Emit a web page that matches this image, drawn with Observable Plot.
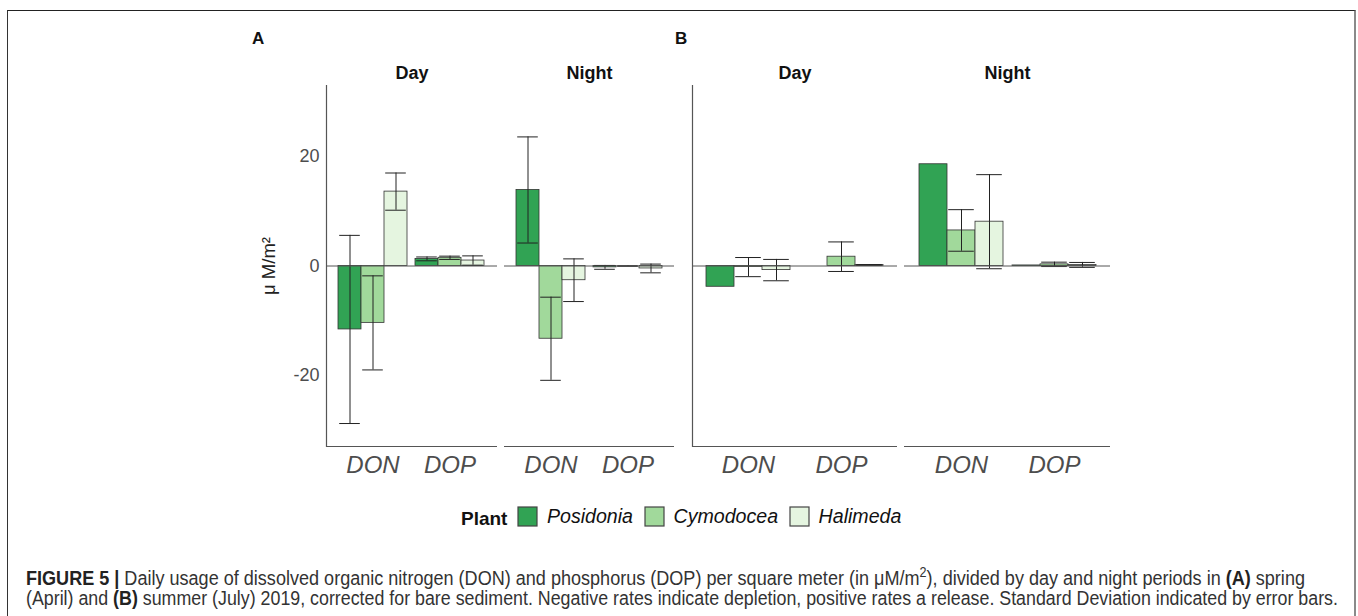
<!DOCTYPE html>
<html><head><meta charset="utf-8">
<script src="https://cdn.jsdelivr.net/npm/d3@7"></script>
<script src="https://cdn.jsdelivr.net/npm/@observablehq/plot@0.6"></script>
<style>
body{margin:0;background:#fff;font-family:"Liberation Sans",Arial,sans-serif;}
#root{position:relative;width:1358px;height:616px;overflow:hidden;background:#fff;}
#border{position:absolute;left:7px;top:10px;width:1346px;height:700px;border-left:1.5px solid #333;border-top:1.5px solid #222;border-right:2px solid #8a8a8a;}
.panel-letter{position:absolute;font-weight:bold;font-size:17px;color:#111;}
.sub{position:absolute;top:55px;}
.sub svg{position:absolute;left:0;top:0;overflow:visible;background:transparent;}
#legend{position:absolute;left:461px;top:507px;height:24px;display:flex;align-items:center;}
#legend .ttl{font-weight:bold;font-size:19px;color:#111;margin-right:11px;}
.lg-swatches{display:flex;align-items:center;}
.lg-swatch{display:inline-flex;align-items:center;margin-right:12px !important;font-style:italic;font-size:19.6px;color:#111;}
.lg-swatch > svg{margin-right:9.5px !important;overflow:visible;}
.lg-swatch rect{stroke:#444;stroke-width:1.2;}
.cap{position:absolute;left:26px;white-space:nowrap;font-family:"Liberation Sans",Arial,sans-serif;font-size:20px;color:#333;line-height:20px;transform-origin:0 0;}
.cap b{font-weight:bold;color:#222;}
</style></head><body>
<div id="root">
  <div id="border"></div>
  <div class="panel-letter" style="left:252px;top:29px;">A</div>
  <div class="panel-letter" style="left:675px;top:29px;">B</div>
  <div class="sub" id="aDay"></div>
  <div class="sub" id="aNight"></div>
  <div class="sub" id="bDay"></div>
  <div class="sub" id="bNight"></div>
  <div id="legend"><span class="ttl">Plant</span></div>
  <div class="cap" id="cap1" style="top:567.5px;"><b>FIGURE 5 |</b> Daily usage of dissolved organic nitrogen (DON) and phosphorus (DOP) per square meter (in μM/m<sup style="font-size:70%;line-height:0">2</sup>), divided by day and night periods in <b>(A)</b> spring</div>
  <div class="cap" id="cap2" style="top:588px;">(April) and <b>(B)</b> summer (July) 2019, corrected for bare sediment. Negative rates indicate depletion, positive rates a release. Standard Deviation indicated by error bars.</div>
</div>
<script>
// ---- data ----
const plants = ["Posidonia", "Cymodocea", "Halimeda"];
const plantColors = ["#31a354", "#a1d99b", "#e5f5e0"];
const variables = ["DON", "DOP"];
const periods = ["Day", "Night"];
const yTicks = [-20, 0, 20];
const yDomain = [-33, 33];
const yLabel = "μ M/m²";

// order within each period: DON (Posidonia, Cymodocea, Halimeda), DOP (Posidonia, Cymodocea, Halimeda)
const springDayMean   = [-11.6, -10.4, 13.6,   1.3, 1.5, 1.0];
const springDaySd     = [ 17.2,   8.6,  3.4,   0.35, 0.3, 0.85];
const springNightMean = [ 13.9, -13.3, -2.6,  -0.25, 0.0, -0.45];
const springNightSd   = [  9.7,   7.6,  3.9,   0.35, 0.05, 0.8];
const summerDayMean   = [ -3.8,  -0.2, -0.75,  0.0, 1.7, 0.2];
const summerDaySd     = [ null,  1.75,  1.95,  null, 2.7, 0.05];
const summerNightMean = [ 18.6,   6.5,  8.1,   0.1, 0.3, 0.2];
const summerNightSd   = [ null,   3.8,  8.6,   null, 0.4, 0.45];

function rows(mean, sd) {
  return mean.map((m, i) => ({
    variable: variables[Math.floor(i / 3)],
    plant: plants[i % 3],
    mean: m,
    sd: sd[i]
  }));
}

const FONT = '"Liberation Sans", Arial, sans-serif';

function subplot(el, {mean, sd, title, frameLeft, W, yAxis, yLine}) {
  const data = rows(mean, sd);
  const err = data.filter(d => d.sd != null);
  const mL = yAxis ? 80 : 6, mR = 6;
  const host = document.getElementById(el);
  host.style.left = (frameLeft - mL) + "px";
  const dims = {width: mL + W + mR, height: 436, marginLeft: mL, marginRight: mR, marginTop: 30, marginBottom: 45};

  // bars + error bars, faceted by variable, dodged by plant
  const bars = Plot.plot({
    ...dims,
    style: {fontFamily: FONT, background: "transparent", overflow: "visible"},
    fx: {domain: variables, paddingInner: 0.1, paddingOuter: 0.15, label: null},
    x: {domain: plants, padding: 0, axis: null},
    y: {domain: yDomain, axis: null},
    color: {domain: plants, range: plantColors},
    marks: [
      Plot.barY(data, {fx: "variable", x: "plant", y: "mean", fill: "plant", stroke: "#333", strokeWidth: 0.8}),
      Plot.ruleX(err, {fx: "variable", x: "plant", y1: d => d.mean - d.sd, y2: d => d.mean + d.sd, stroke: "#222", strokeWidth: 1}),
      Plot.tickY(err, {fx: "variable", x: "plant", y: d => d.mean - d.sd, stroke: "#222", strokeWidth: 1, inset: 1.2}),
      Plot.tickY(err, {fx: "variable", x: "plant", y: d => d.mean + d.sd, stroke: "#222", strokeWidth: 1, inset: 1.2}),
      Plot.axisFx({anchor: "bottom", tickSize: 0, tickPadding: 9, fontSize: 24, fontStyle: "italic", fill: "#4d4d4d", label: null})
    ]
  });

  // un-faceted overlay sharing the same y scale: zero line, axis lines, y axis, strip title
  const overlayMarks = [
    Plot.ruleY([0], {stroke: "#555", strokeWidth: 1}),
    Plot.ruleY([yDomain[0]], {stroke: "#555", strokeWidth: 1.2}),
    Plot.text([title], {text: d => d, frameAnchor: "top", dy: -7, lineAnchor: "bottom", fontWeight: "bold", fontSize: 18, fill: "#111"})
  ];
  if (yLine) overlayMarks.push(Plot.frame({anchor: "left", stroke: "#555", strokeWidth: 1.2}));
  if (yAxis) {
    overlayMarks.push(Plot.axisY(yTicks, {anchor: "left", tickSize: 0, tickPadding: 7, fontSize: 18, fill: "#4d4d4d", label: null, tickFormat: d => String(d)}));
    overlayMarks.push(Plot.text([yLabel], {text: d => d, frameAnchor: "left", textAnchor: "middle", rotate: -90, dx: -57, fontSize: 18.5, fill: "#222"}));
  }
  const overlay = Plot.plot({
    ...dims,
    style: {fontFamily: FONT, background: "transparent", overflow: "visible"},
    y: {domain: yDomain, axis: null},
    marks: overlayMarks
  });

  host.style.width = dims.width + "px";
  host.style.height = dims.height + "px";
  host.appendChild(bars);
  host.appendChild(overlay);
}

subplot("aDay",   {mean: springDayMean,   sd: springDaySd,   title: periods[0], frameLeft: 325.7, W: 171, yAxis: true,  yLine: true});
subplot("aNight", {mean: springNightMean, sd: springNightSd, title: periods[1], frameLeft: 504,   W: 170, yAxis: false, yLine: false});
subplot("bDay",   {mean: summerDayMean,   sd: summerDaySd,   title: periods[0], frameLeft: 691.7, W: 205, yAxis: false, yLine: true});
subplot("bNight", {mean: summerNightMean, sd: summerNightSd, title: periods[1], frameLeft: 904,   W: 206, yAxis: false, yLine: false});

// legend
const lg = Plot.legend({color: {domain: plants, range: plantColors}, swatchSize: 19, className: "lg", style: {fontFamily: FONT}});
document.getElementById("legend").appendChild(lg);

// caption: condense horizontally to the measured line widths
function fit(id, target) {
  const el = document.getElementById(id);
  const w = el.getBoundingClientRect().width;
  el.style.transform = "scaleX(" + (target / w).toFixed(4) + ")";
}
fit("cap1", 1279);
fit("cap2", 1312);
</script>
</body></html>
